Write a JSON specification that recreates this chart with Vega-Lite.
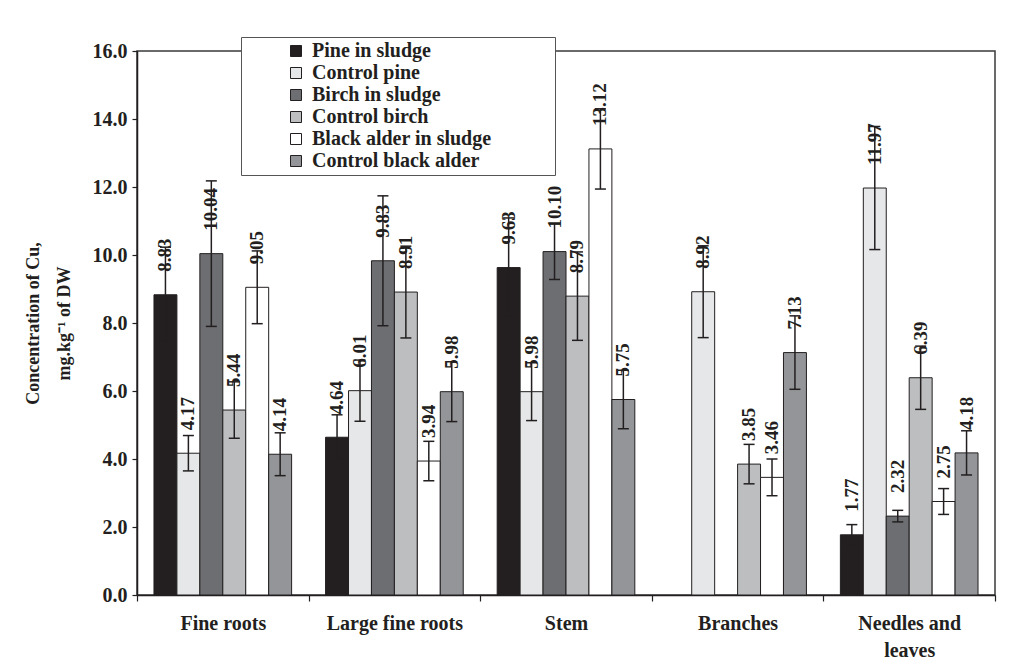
{
  "$schema": "https://vega.github.io/schema/vega-lite/v6.json",
  "width": 858,
  "height": 544,
  "autosize": {"type": "none"},
  "padding": {"left": 137, "top": 51, "right": 14, "bottom": 68},
  "background": "white",
  "config": {
    "font": "Liberation Serif",
    "view": {"stroke": "#3a3a3a", "strokeWidth": 1.5},
    "axis": {
      "labelFont": "Liberation Serif",
      "labelFontWeight": "bold",
      "labelColor": "#231f20",
      "titleFont": "Liberation Serif",
      "titleFontWeight": "bold",
      "titleColor": "#231f20",
      "domainColor": "#231f20",
      "domainWidth": 1.5,
      "tickColor": "#231f20",
      "tickWidth": 1.2,
      "grid": false
    },
    "axisY": {
      "labelFontSize": 20,
      "labelPadding": 5,
      "tickSize": 5,
      "titleFontSize": 18,
      "titleLineHeight": 31,
      "titlePadding": 19
    }
  },
  "data": {
    "values": [
      {"part": "Fine roots", "series": "Pine in sludge", "value": 8.83, "lo": 7.43, "hi": 10.23},
      {"part": "Fine roots", "series": "Control pine", "value": 4.17, "lo": 3.65, "hi": 4.69},
      {"part": "Fine roots", "series": "Birch in sludge", "value": 10.04, "lo": 7.9, "hi": 12.18},
      {"part": "Fine roots", "series": "Control birch", "value": 5.44, "lo": 4.61, "hi": 6.27},
      {"part": "Fine roots", "series": "Black alder in sludge", "value": 9.05, "lo": 7.98, "hi": 10.12},
      {"part": "Fine roots", "series": "Control black alder", "value": 4.14, "lo": 3.51, "hi": 4.77},
      {"part": "Large fine roots", "series": "Pine in sludge", "value": 4.64, "lo": 3.98, "hi": 5.3},
      {"part": "Large fine roots", "series": "Control pine", "value": 6.01, "lo": 5.11, "hi": 6.91},
      {"part": "Large fine roots", "series": "Birch in sludge", "value": 9.83, "lo": 7.92, "hi": 11.74},
      {"part": "Large fine roots", "series": "Control birch", "value": 8.91, "lo": 7.56, "hi": 10.26},
      {"part": "Large fine roots", "series": "Black alder in sludge", "value": 3.94, "lo": 3.36, "hi": 4.52},
      {"part": "Large fine roots", "series": "Control black alder", "value": 5.98, "lo": 5.1, "hi": 6.86},
      {"part": "Stem", "series": "Pine in sludge", "value": 9.63, "lo": 8.17, "hi": 11.09},
      {"part": "Stem", "series": "Control pine", "value": 5.98, "lo": 5.13, "hi": 6.83},
      {"part": "Stem", "series": "Birch in sludge", "value": 10.1, "lo": 9.28, "hi": 10.92},
      {"part": "Stem", "series": "Control birch", "value": 8.79, "lo": 7.49, "hi": 10.09},
      {"part": "Stem", "series": "Black alder in sludge", "value": 13.12, "lo": 11.94, "hi": 14.3},
      {"part": "Stem", "series": "Control black alder", "value": 5.75, "lo": 4.89, "hi": 6.61},
      {"part": "Branches", "series": "Control pine", "value": 8.92, "lo": 7.57, "hi": 10.27},
      {"part": "Branches", "series": "Control birch", "value": 3.85, "lo": 3.27, "hi": 4.43},
      {"part": "Branches", "series": "Black alder in sludge", "value": 3.46, "lo": 2.92, "hi": 4.0},
      {"part": "Branches", "series": "Control black alder", "value": 7.13, "lo": 6.05, "hi": 8.21},
      {"part": "Needles and leaves", "series": "Pine in sludge", "value": 1.77, "lo": 1.47, "hi": 2.07},
      {"part": "Needles and leaves", "series": "Control pine", "value": 11.97, "lo": 10.16, "hi": 13.78},
      {"part": "Needles and leaves", "series": "Birch in sludge", "value": 2.32, "lo": 2.15, "hi": 2.49},
      {"part": "Needles and leaves", "series": "Control birch", "value": 6.39, "lo": 5.46, "hi": 7.32},
      {"part": "Needles and leaves", "series": "Black alder in sludge", "value": 2.75, "lo": 2.37, "hi": 3.13},
      {"part": "Needles and leaves", "series": "Control black alder", "value": 4.18, "lo": 3.53, "hi": 4.83}
    ]
  },
  "encoding": {
    "x": {
      "field": "part",
      "type": "nominal",
      "sort": ["Fine roots", "Large fine roots", "Stem", "Branches", "Needles and leaves"],
      "scale": {"paddingInner": 0, "paddingOuter": 0},
      "axis": {
        "title": null,
        "labelAngle": 0,
        "labelFontSize": 20,
        "labelPadding": 12,
        "labelLineHeight": 27,
        "labelBaseline": "top",
        "tickBand": "extent",
        "tickSize": 6,
        "labelExpr": "datum.label == 'Needles and leaves' ? ['Needles and', 'leaves'] : datum.label"
      }
    },
    "xOffset": {
      "field": "series",
      "type": "nominal",
      "sort": ["Pine in sludge", "Control pine", "Birch in sludge", "Control birch", "Black alder in sludge", "Control black alder"],
      "scale": {"paddingInner": 0, "paddingOuter": 0.74}
    }
  },
  "layer": [
    {
      "mark": {"type": "bar", "stroke": "#231f20", "strokeWidth": 1},
      "encoding": {
        "y": {
          "field": "value",
          "type": "quantitative",
          "scale": {"domain": [0, 16], "nice": false},
          "axis": {
            "title": ["Concentration of Cu,", "mg.kg\u207b\u00b9 of DW"],
            "values": [0, 2, 4, 6, 8, 10, 12, 14, 16],
            "format": ".1f"
          }
        },
        "color": {
          "field": "series",
          "type": "nominal",
          "sort": ["Pine in sludge", "Control pine", "Birch in sludge", "Control birch", "Black alder in sludge", "Control black alder"],
          "scale": {"range": ["#231f20", "#e6e7e8", "#6d6e71", "#bcbec0", "#ffffff", "#939598"]},
          "legend": {
            "orient": "none",
            "legendX": 104,
            "legendY": -14,
            "title": "\u00a0",
            "titleOrient": "right",
            "titlePadding": 60,
            "labelFont": "Liberation Serif",
            "labelFontWeight": "bold",
            "labelFontSize": 20,
            "labelColor": "#231f20",
            "labelLimit": 400,
            "symbolType": "square",
            "symbolSize": 121,
            "symbolOpacity": 1,
            "symbolStrokeColor": "#231f20",
            "symbolStrokeWidth": 1,
            "symbolOffset": 41,
            "labelOffset": 6,
            "rowPadding": 2,
            "padding": 4,
            "strokeColor": "#555555",
            "fillColor": "white"
          }
        }
      }
    },
    {
      "mark": {"type": "rule", "color": "#231f20", "strokeWidth": 1.5},
      "encoding": {
        "y": {
          "field": "lo",
          "type": "quantitative",
          "axis": {
            "title": ["Concentration of Cu,", "mg.kg\u207b\u00b9 of DW"],
            "values": [0, 2, 4, 6, 8, 10, 12, 14, 16],
            "format": ".1f"
          }
        },
        "y2": {"field": "hi"}
      }
    },
    {
      "mark": {"type": "tick", "color": "#231f20", "thickness": 1.5, "size": 11, "opacity": 1},
      "encoding": {
        "y": {
          "field": "lo",
          "type": "quantitative",
          "axis": {
            "title": ["Concentration of Cu,", "mg.kg\u207b\u00b9 of DW"],
            "values": [0, 2, 4, 6, 8, 10, 12, 14, 16],
            "format": ".1f"
          }
        }
      }
    },
    {
      "mark": {"type": "tick", "color": "#231f20", "thickness": 1.5, "size": 11, "opacity": 1},
      "encoding": {
        "y": {
          "field": "hi",
          "type": "quantitative",
          "axis": {
            "title": ["Concentration of Cu,", "mg.kg\u207b\u00b9 of DW"],
            "values": [0, 2, 4, 6, 8, 10, 12, 14, 16],
            "format": ".1f"
          }
        }
      }
    },
    {
      "mark": {"type": "text", "angle": 270, "align": "left", "baseline": "middle", "dx": 23, "font": "Liberation Serif", "fontWeight": "bold", "fontSize": 19, "color": "#231f20"},
      "encoding": {
        "y": {
          "field": "value",
          "type": "quantitative",
          "axis": {
            "title": ["Concentration of Cu,", "mg.kg\u207b\u00b9 of DW"],
            "values": [0, 2, 4, 6, 8, 10, 12, 14, 16],
            "format": ".1f"
          }
        },
        "text": {"field": "value", "type": "quantitative", "format": ".2f"}
      }
    }
  ]
}
